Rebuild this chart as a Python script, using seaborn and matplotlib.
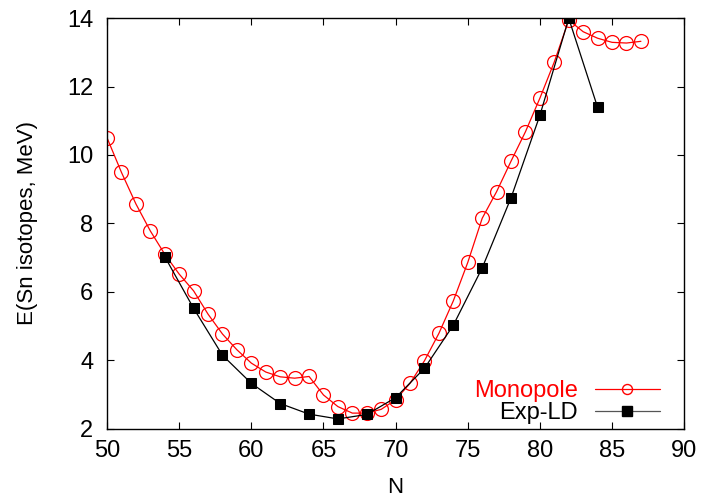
import numpy as np
import pandas as pd
import matplotlib
matplotlib.use("Agg")
import matplotlib.pyplot as plt
import seaborn as sns
from matplotlib.lines import Line2D

# Data
mono_N = [50, 51, 52, 53, 54, 55, 56, 57, 58, 59, 60, 61, 62, 63, 64, 65, 66, 67, 68,
          69, 70, 71, 72, 73, 74, 75, 76, 77, 78, 79, 80, 81, 82, 83, 84, 85, 86, 87]
mono_E = [10.50, 9.49, 8.57, 7.78, 7.10, 6.52, 6.03, 5.35, 4.77, 4.31, 3.92, 3.66, 3.52, 3.48,
          3.53, 2.99, 2.65, 2.46, 2.46, 2.57, 2.85, 3.33, 3.99, 4.79, 5.74, 6.86, 8.15, 8.93,
          9.82, 10.68, 11.66, 12.72, 13.94, 13.60, 13.41, 13.29, 13.27, 13.32]
exp_N = [54, 56, 58, 60, 62, 64, 66, 68, 70, 72, 74, 76, 78, 80, 82, 84]
exp_E = [7.03, 5.52, 4.15, 3.33, 2.74, 2.43, 2.29, 2.42, 2.91, 3.77, 5.03, 6.70, 8.75, 11.16, 13.99, 11.39]
x_ticks = [50, 55, 60, 65, 70, 75, 80, 85, 90]
y_ticks = [2, 4, 6, 8, 10, 12, 14]
labels = ["Monopole", "Exp-LD"]

sns.set_style("ticks")
plt.rcParams['font.family'] = ['Liberation Sans', 'DejaVu Sans']
plt.rcParams['axes.labelcolor'] = 'black'
plt.rcParams['text.color'] = 'black'

fig = plt.figure(figsize=(7.09, 5.01), dpi=100)
ax = fig.add_axes([0.151, 0.144, 0.814, 0.820])

mono = pd.DataFrame({"N": mono_N, "E": mono_E})
exp = pd.DataFrame({"N": exp_N, "E": exp_E})

sns.lineplot(data=mono, x="N", y="E", ax=ax, color="red", linewidth=0.9,
             marker="o", markersize=10, markerfacecolor="none",
             markeredgecolor="red", markeredgewidth=0.9, sort=False, zorder=2)
sns.lineplot(data=exp, x="N", y="E", ax=ax, color="black", linewidth=0.9,
             marker="s", markersize=7, markerfacecolor="black",
             markeredgecolor="black", sort=False, zorder=3)

ax.set_xlim(50, 90)
ax.set_ylim(2, 14)
ax.set_xticks(x_ticks)
ax.set_yticks(y_ticks)
ax.tick_params(direction="in", length=5, width=0.8, top=True, right=True,
               labelsize=17, colors="black")
ax.tick_params(axis="x", pad=8)
ax.tick_params(axis="y", pad=10)
for s in ax.spines.values():
    s.set_visible(True)
    s.set_linewidth(1.0)
    s.set_color("black")
ax.set_xlabel("N", fontsize=16, labelpad=11, color="black")
ax.set_ylabel("E(Sn isotopes, MeV)", fontsize=16, labelpad=21, color="black")

handles = [
    Line2D([], [], color="red", linewidth=0.9, marker="o", markersize=7.2,
           markerfacecolor="none", markeredgecolor="red"),
    Line2D([], [], color="#555555", linewidth=0.9, marker="s", markersize=7.2,
           markerfacecolor="black", markeredgecolor="black"),
]
leg = ax.legend(handles, labels, loc="lower right", frameon=False,
                markerfirst=False, fontsize=17, handlelength=2.75, handletextpad=0.72,
                labelspacing=0.0, borderpad=0.0, borderaxespad=0.0,
                bbox_to_anchor=(0.958, 0.012))
leg.get_texts()[0].set_color("red")
leg.get_texts()[1].set_color("black")

fig.savefig("out.png", dpi=100)
